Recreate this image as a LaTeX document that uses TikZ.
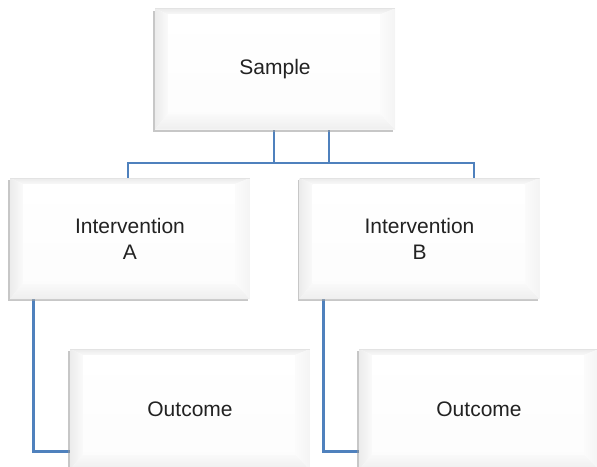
\documentclass[tikz,border=0pt]{standalone}
\usepackage{fontspec}
\setmainfont{Liberation Sans}
\usetikzlibrary{calc,shadows,backgrounds}
\definecolor{linkblue}{HTML}{4F81BD}
\definecolor{labelgray}{HTML}{222222}
\tikzset{
  bevelbox/.style={
    rectangle, minimum width=240pt, minimum height=121pt, inner sep=0pt,
    align=center, font=\fontsize{21}{26}\selectfont, text=labelgray,
    fill=white,
    drop shadow={shadow xshift=-2pt, shadow yshift=-2.4pt, opacity=0.55, fill=gray!80},
    path picture={
      \coordinate (pnw) at (path picture bounding box.north west);
      \coordinate (pne) at (path picture bounding box.north east);
      \coordinate (psw) at (path picture bounding box.south west);
      \coordinate (pse) at (path picture bounding box.south east);
      \coordinate (inw) at ($(pnw)+(13pt,-6pt)$);
      \coordinate (ine) at ($(pne)+(-15pt,-6pt)$);
      \coordinate (isw) at ($(psw)+(13pt,16pt)$);
      \coordinate (ise) at ($(pse)+(-15pt,16pt)$);
      % bevel faces
      \shade[top color=gray!16, bottom color=gray!5] (pnw) -- (pne) -- (ine) -- (inw) -- cycle;
      \shade[left color=gray!15, right color=gray!4] (pnw) -- (inw) -- (isw) -- (psw) -- cycle;
      \shade[top color=gray!4, bottom color=gray!13] (psw) -- (isw) -- (ise) -- (pse) -- cycle;
      \shade[left color=gray!3, right color=gray!9] (pne) -- (pse) -- (ise) -- (ine) -- cycle;
      % flat top face
      \shade[top color=white, bottom color=gray!2] (inw) rectangle (ise);
      % thin light rim along the top
      \draw[gray!22, line width=1.2pt] (pnw) -- (pne);
    }},
  link/.style={draw=linkblue, line width=2.8pt}
}
\begin{document}
\begin{tikzpicture}[x=1pt, y=-1pt]
  \path[use as bounding box, clip] (0,0) rectangle (597,466);

  % boxes
  \node[bevelbox] (sample) at (275,69)      {Sample};
  \node[bevelbox] (ia)     at (130,238.5)   {Intervention\\A};
  \node[bevelbox] (ib)     at (419.5,238.5) {Intervention\\B};
  \node[bevelbox] (oa)     at (190,409.5)   {Outcome};
  \node[bevelbox] (ob)     at (479,409.5)   {Outcome};

  \coordinate (bus) at (0,163);

  % connectors
  \begin{scope}[on background layer]
    \draw[link] ([xshift=54pt]sample.south) |- ([xshift=-2pt]ia.north |- bus)
                -- ([xshift=-2pt]ia.north);
    \draw[link] ([xshift=-1pt]sample.south) |- ([xshift=54.5pt]ib.north |- bus)
                -- ([xshift=54.5pt]ib.north);
    \draw[link] ([xshift=24pt]ia.south west) |- ([yshift=19pt]oa.south west);
    \draw[link] ([xshift=24pt]ib.south west) |- ([yshift=19pt]ob.south west);
  \end{scope}
\end{tikzpicture}
\end{document}
